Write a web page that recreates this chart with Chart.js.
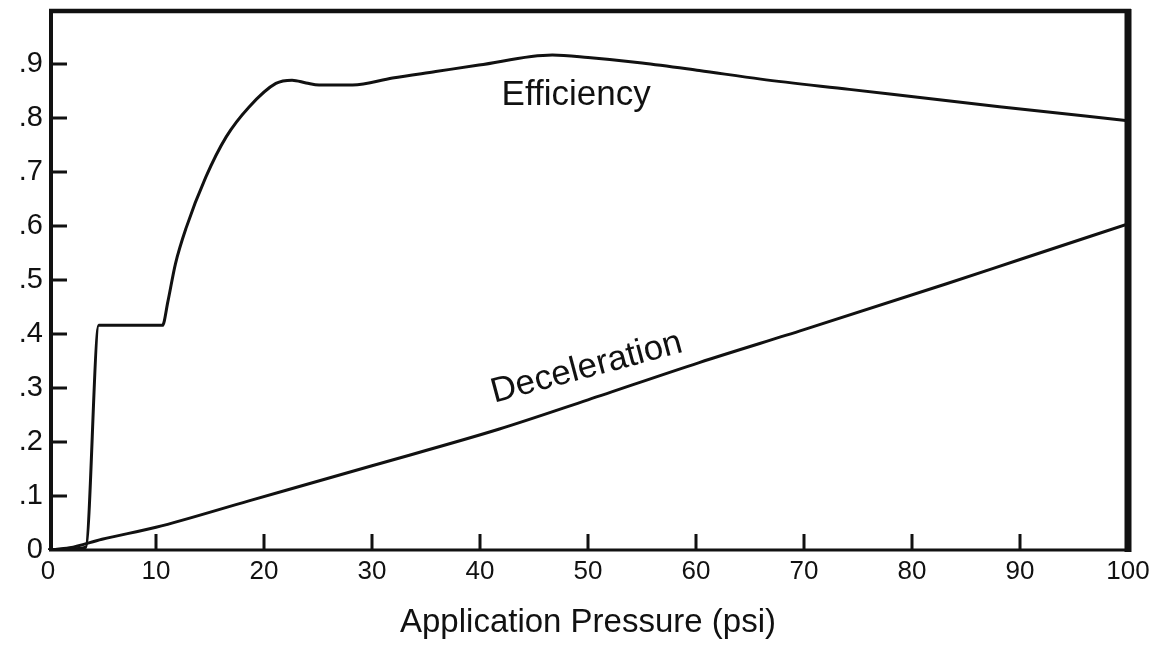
<!DOCTYPE html>
<html>
<head>
<meta charset="utf-8">
<script src="https://cdn.jsdelivr.net/npm/chart.js@4/dist/chart.umd.min.js"></script>
<style>
  html,body{margin:0;padding:0;background:#fff}
  canvas{display:block}
</style>
</head>
<body>
<canvas id="c" width="1153" height="646"></canvas>
<script>
// ── data ──
const xTicks = [0,10,20,30,40,50,60,70,80,90,100];
const yTicks = [0,0.1,0.2,0.3,0.4,0.5,0.6,0.7,0.8,0.9,1.0];
const yTickLabels = ['0','.1','.2','.3','.4','.5','.6','.7','.8','.9',''];

const effX = [0,2,3.5,4.7,10.6,11.1,11.8,12.8,14.6,16.5,18.6,21.1,22.6,23.9,25.1,28.2,31.9,35.9,39.9,46.7,50,55,60.3,66,74.2,88.1,100];
const effY = [0,0.002,0.005,0.416,0.416,0.46,0.53,0.597,0.69,0.765,0.82,0.864,0.870,0.865,0.861,0.861,0.874,0.886,0.898,0.9165,0.912,0.902,0.888,0.872,0.853,0.821,0.795];

const decX = [0,2,5,10,18.6,30,41.8,50,60.3,70,83.2,90,100];
const decY = [0,0.004,0.02,0.042,0.091,0.156,0.224,0.278,0.347,0.408,0.493,0.538,0.604];

// curve labels, in data coords
const curveLabels = [
  {text:'Efficiency',   x:48.9, y:0.824, rot:0},
  {text:'Deceleration', x:50.1, y:0.32,  rot:-15}
];

const pts = (xs,ys) => xs.map((x,i)=>({x:x,y:ys[i]}));
const INK = '#111';
const FONT = '"Liberation Sans", Arial, Helvetica, sans-serif';

// frame + inward ticks + curve labels
const framePlugin = {
  id:'frame',
  afterDraw(chart){
    const {ctx, chartArea:a, scales:{x,y}} = chart;
    ctx.save();
    ctx.strokeStyle = INK; ctx.lineCap = 'butt';
    const line=(x1,y1,x2,y2,w)=>{ctx.beginPath();ctx.lineWidth=w;ctx.moveTo(x1,y1);ctx.lineTo(x2,y2);ctx.stroke();};
    // borders (uneven weights like the scan)
    line(a.left+3, a.top-1, a.left+3, a.bottom+1, 4);
    line(a.left+1, a.top+1, a.right+3, a.top+1, 4.5);
    line(a.right, a.top-1, a.right, a.bottom+2, 7);
    line(a.left+1, a.bottom, a.right, a.bottom, 3);
    // inward tick marks
    yTicks.forEach(v=>{ if(v<=0||v>=1) return; const py=y.getPixelForValue(v); line(a.left+4, py, a.left+19, py, 3); });
    xTicks.forEach(v=>{ if(v<=0||v>=100) return; const px=x.getPixelForValue(v); line(px, a.bottom, px, a.bottom-16, 3); });
    // curve labels
    ctx.fillStyle = INK;
    ctx.font = '35px '+FONT;
    ctx.textAlign = 'center'; ctx.textBaseline = 'alphabetic';
    curveLabels.forEach(l=>{
      ctx.save();
      ctx.translate(x.getPixelForValue(l.x), y.getPixelForValue(l.y));
      ctx.rotate(l.rot*Math.PI/180);
      ctx.fillText(l.text, 0, 0);
      ctx.restore();
    });
    ctx.restore();
  }
};

new Chart(document.getElementById('c'), {
  type:'line',
  data:{
    datasets:[
      {label:'Efficiency', data:pts(effX,effY), borderColor:INK, borderWidth:3, pointRadius:0, cubicInterpolationMode:'monotone', fill:false},
      {label:'Deceleration', data:pts(decX,decY), borderColor:INK, borderWidth:3, pointRadius:0, cubicInterpolationMode:'monotone', fill:false}
    ]
  },
  options:{
    responsive:false,
    devicePixelRatio:1,
    animation:false,
    layout:{autoPadding:false, padding:{top:10,right:25,left:0,bottom:0}},
    plugins:{legend:{display:false}, tooltip:{enabled:false}},
    scales:{
      x:{
        type:'linear', min:0, max:100,
        afterBuildTicks:s=>{ s.ticks = xTicks.map(v=>({value:v})); },
        afterFit:s=>{ s.height = 96; s.paddingLeft = 0; s.paddingRight = 0; },
        grid:{display:false, drawTicks:false},
        border:{display:false},
        ticks:{color:INK, font:{family:FONT, size:26}, padding:6, maxRotation:0, autoSkip:false},
        title:{display:true, text:'Application Pressure (psi)', color:INK, font:{family:FONT, size:33}, padding:{top:0,bottom:3}}
      },
      y:{
        type:'linear', min:0, max:1,
        afterBuildTicks:s=>{ s.ticks = yTicks.map(v=>({value:v})); },
        afterFit:s=>{ s.width = 48; s.paddingTop = 0; s.paddingBottom = 0; },
        grid:{display:false, drawTicks:false},
        border:{display:false},
        ticks:{color:INK, font:{family:FONT, size:29}, padding:5, autoSkip:false,
          callback:(v,i)=>yTickLabels[i]}
      }
    }
  },
  plugins:[framePlugin]
});
</script>
</body>
</html>
